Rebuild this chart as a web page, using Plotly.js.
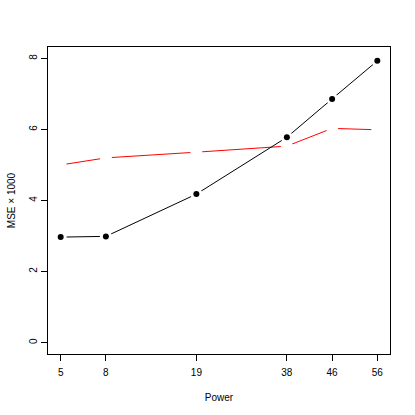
<!DOCTYPE html>
<html>
<head>
<meta charset="utf-8">
<script src="https://cdn.plot.ly/plotly-3.0.1.min.js"></script>
<style>
  html, body { margin: 0; padding: 0; background: #fff; }
  #chart { width: 415px; height: 415px; }
</style>
</head>
<body>
<div id="chart"></div>
<script>
  // ── Datos ────────────────────────────────────────────────────────────────
  const powerLabels = ['5', '8', '19', '38', '46', '56'];
  const powerPos    = [1, 2, 4, 6, 7, 8];          // posición en el eje x
  const mseBlack    = [2.97, 2.99, 4.18, 5.78, 6.86, 7.93];
  const mseRed      = [5.00, 5.20, 5.36, 5.53, 6.03, 5.99];
  const yTicks      = [0, 2, 4, 6, 8];

  const FONT = 'Liberation Sans, Arial, Helvetica, sans-serif';

  // línea + hueco blanco alrededor de cada punto (estilo type="b" de R)
  function lineTrace(y, color) {
    return { type: 'scatter', mode: 'lines', x: powerPos, y: y,
             line: { color: color, width: 1 }, hoverinfo: 'skip' };
  }
  function gapTrace(y) {
    return { type: 'scatter', mode: 'markers', x: powerPos, y: y,
             marker: { color: '#ffffff', size: 12, line: { width: 0 } },
             hoverinfo: 'skip' };
  }

  const traces = [
    lineTrace(mseRed, '#ff0000'),
    gapTrace(mseRed),
    lineTrace(mseBlack, '#000000'),
    gapTrace(mseBlack),
    { type: 'scatter', mode: 'markers', x: powerPos, y: mseBlack,
      marker: { color: '#000000', size: 6 }, hoverinfo: 'skip' },
  ];

  const axisBase = {
    showline: true, mirror: true, linecolor: '#000', linewidth: 1,
    showgrid: false, zeroline: false,
    ticks: 'outside', ticklen: 6, tickcolor: '#000', tickwidth: 1,
    tickfont: { family: FONT, size: 10, color: '#000' },
  };

  const layout = {
    width: 415, height: 415,
    margin: { l: 48, r: 25, t: 47, b: 61 },
    paper_bgcolor: '#fff', plot_bgcolor: '#fff',
    showlegend: false,
    font: { family: FONT, size: 10, color: '#000' },
    xaxis: Object.assign({}, axisBase, {
      range: [0.72, 8.28],
      tickvals: powerPos, ticktext: powerLabels,
      ticklabelstandoff: 3,
      title: { text: 'Power', font: { family: FONT, size: 10, color: '#000' }, standoff: 16 },
    }),
    yaxis: Object.assign({}, axisBase, {
      range: [-0.32, 8.32],
      tickvals: yTicks, tickangle: -90,
      title: { text: 'MSE \u00d7 1000', font: { family: FONT, size: 10, color: '#000' }, standoff: 10 },
    }),
  };

  Plotly.newPlot('chart', traces, layout, { displayModeBar: false, staticPlot: true });
</script>
</body>
</html>
